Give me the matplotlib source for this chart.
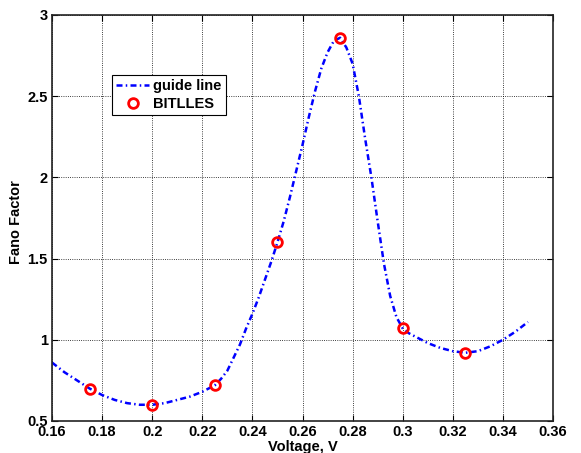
import matplotlib
matplotlib.use('Agg')
import matplotlib.pyplot as plt

# guide line
guideV = [0.160, 0.165, 0.170, 0.175, 0.180, 0.185, 0.190, 0.195, 0.200, 0.205,
          0.210, 0.215, 0.220, 0.225, 0.2275, 0.230, 0.2325, 0.235, 0.2375, 0.240,
          0.2425, 0.245, 0.2475, 0.250, 0.2525, 0.255, 0.2575, 0.260, 0.2625, 0.265,
          0.2675, 0.270, 0.2725, 0.275, 0.2775, 0.280, 0.2825, 0.285, 0.2875, 0.290,
          0.2925, 0.295, 0.2975, 0.300, 0.3025, 0.305, 0.310, 0.315, 0.320, 0.325,
          0.330, 0.335, 0.340, 0.345, 0.350]
guideF = [0.86, 0.80, 0.75, 0.70, 0.66, 0.63, 0.61, 0.60, 0.60, 0.61,
          0.63, 0.65, 0.68, 0.72, 0.76, 0.81, 0.89, 0.97, 1.07, 1.16,
          1.26, 1.37, 1.48, 1.60, 1.73, 1.88, 2.04, 2.20, 2.37, 2.53,
          2.67, 2.77, 2.84, 2.86, 2.80, 2.70, 2.50, 2.24, 2.00, 1.73,
          1.47, 1.27, 1.14, 1.07, 1.04, 1.02, 0.98, 0.95, 0.93, 0.92,
          0.93, 0.96, 1.00, 1.05, 1.11]

# BITLLES points
simV = [0.175, 0.200, 0.225, 0.250, 0.275, 0.300, 0.325]
simF = [0.70, 0.60, 0.72, 1.60, 2.86, 1.07, 0.92]

plt.rcParams['font.family'] = ['Liberation Sans', 'DejaVu Sans']
plt.rcParams['font.weight'] = 'bold'

fig = plt.figure(figsize=(5.81, 4.53), dpi=100)
ax = fig.add_axes([52/581, 1 - 421/453, 501/581, 406/453])

ax.plot(guideV, guideF, color='#0000ff', linestyle='-.', dashes=(2.4, 1.3, 0.6, 1.3),
        linewidth=1.8, label='guide line')
ax.plot(simV, simF, linestyle='none', marker='o', markersize=7, markerfacecolor='none',
        markeredgecolor='#ff0000', markeredgewidth=2, label='BITLLES')

ax.set_xlim(0.16, 0.36)
ax.set_ylim(0.5, 3)
ax.set_xticks([0.16, 0.18, 0.2, 0.22, 0.24, 0.26, 0.28, 0.3, 0.32, 0.34, 0.36])
ax.set_xticklabels(['0.16', '0.18', '0.2', '0.22', '0.24', '0.26', '0.28', '0.3', '0.32', '0.34', '0.36'])
ax.set_yticks([0.5, 1, 1.5, 2, 2.5, 3])
ax.set_yticklabels(['0.5', '1', '1.5', '2', '2.5', '3'])
ax.tick_params(direction='in', top=True, right=True, length=4, labelsize=10.5, pad=3)
ax.grid(True, color='black', linestyle=':', linewidth=0.6)
for s in ax.spines.values():
    s.set_linewidth(1.2)
    s.set_color('#222222')

ax.set_xlabel('Voltage, V', fontsize=10.5, fontweight='bold')
ax.set_ylabel('Fano Factor', fontsize=10.5, fontweight='bold')
ax.xaxis.set_label_coords(0.5, -0.046)
ax.yaxis.set_label_coords(-0.058, 0.49)

leg = ax.legend(loc='upper left', bbox_to_anchor=(0.12, 0.852), fontsize=10.5,
                fancybox=False, framealpha=1, edgecolor='black', handlelength=2.2,
                borderpad=0.3, labelspacing=0.25, handletextpad=0.3, borderaxespad=0)
leg.get_frame().set_linewidth(0.8)

fig.savefig('out.png', dpi=100)
